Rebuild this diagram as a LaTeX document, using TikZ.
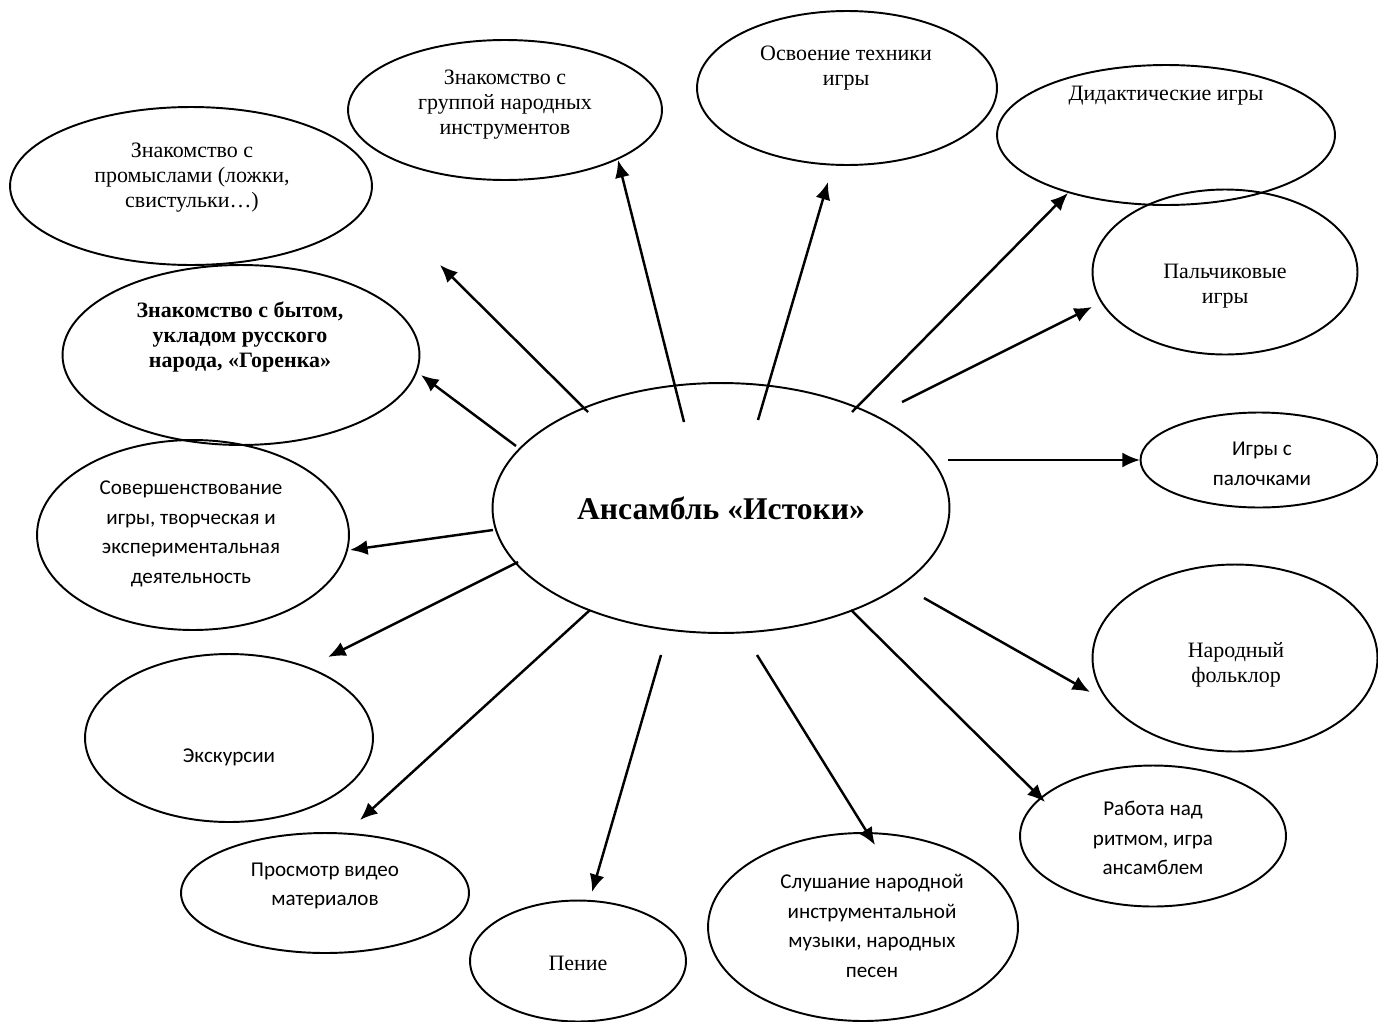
\documentclass[tikz,border=0pt]{standalone}
\usepackage{fontspec}
\setmainfont{Liberation Serif}
\setsansfont{Carlito}
\usetikzlibrary{shapes.geometric,arrows.meta}

\begin{document}
\begin{tikzpicture}[x=0.02cm, y=-0.02cm,
        oval/.style={draw, ellipse, line width=1.1pt, inner sep=0pt},
        serif/.style={font=\fontsize{12.5}{14.2}\selectfont, align=center, inner sep=0pt},
        sans/.style={font=\sffamily\fontsize{12}{16.8}\selectfont, align=center, inner sep=0pt},
        pfeil/.style={->, line width=1.4pt},
        >={Latex[length=10pt,width=8.5pt]} % Pfeilspitzen
        ]
            \useasboundingbox (0,0) rectangle (1378,1021);

            % Ellipsen
            \node[oval, minimum width=9.14cm, minimum height=5.00cm] (ens) at (721,508) {};
            \node[oval, minimum width=7.24cm, minimum height=3.16cm] (prom) at (191,186) {};
            \node[oval, minimum width=6.28cm, minimum height=2.80cm] (grup) at (505,110) {};
            \node[oval, minimum width=6.00cm, minimum height=3.08cm] (tech) at (847,88) {};
            \node[oval, minimum width=6.76cm, minimum height=2.80cm] (did) at (1166,135) {};
            \node[oval, minimum width=5.30cm, minimum height=3.30cm] (palc) at (1225,272) {};
            \node[oval, minimum width=4.74cm, minimum height=1.90cm] (palo) at (1259,460) {};
            \node[oval, minimum width=5.70cm, minimum height=3.74cm] (folk) at (1235,658) {};
            \node[oval, minimum width=5.32cm, minimum height=2.82cm] (ritm) at (1153,836) {};
            \node[oval, minimum width=6.20cm, minimum height=3.76cm] (slus) at (863,927) {};
            \node[oval, minimum width=4.32cm, minimum height=2.42cm] (pen) at (578,961) {};
            \node[oval, minimum width=5.76cm, minimum height=2.40cm] (vid) at (325,893) {};
            \node[oval, minimum width=5.76cm, minimum height=3.36cm] (eks) at (229,738) {};
            \node[oval, minimum width=6.24cm, minimum height=3.80cm] (sov) at (193,535) {};
            \node[oval, minimum width=7.14cm, minimum height=3.60cm] (byt) at (241,355) {};

            % Texte
            \node[serif, font=\bfseries\fontsize{18}{20}\selectfont] (ens-t) at (721,508) {Ансамбль «Истоки»};
            \node[serif] (prom-t) at (192,178) {Знакомство с\\промыслами (ложки,\\свистульки…)};
            \node[serif] (grup-t) at (505,105) {Знакомство с\\группой народных\\инструментов};
            \node[serif] (tech-t) at (846,68) {Освоение техники\\игры};
            \node[serif] (did-t) at (1166,96) {Дидактические игры};
            \node[serif] (palc-t) at (1225,286) {Пальчиковые\\игры};
            \node[sans] (palo-t) at (1262,464) {Игры с\\палочками};
            \node[serif] (folk-t) at (1236,665) {Народный\\фольклор};
            \node[sans] (ritm-t) at (1153,838) {Работа над\\ритмом, игра\\ансамблем};
            \node[sans] (slus-t) at (872,926) {Слушание народной\\инструментальной\\музыки, народных\\песен};
            \node[serif] (pen-t) at (578,963) {Пение};
            \node[sans] (vid-t) at (325,886) {Просмотр видео\\материалов};
            \node[sans] (eks-t) at (229,757) {Экскурсии};
            \node[sans] (sov-t) at (191,534) {Совершенствование\\игры, творческая и\\экспериментальная\\деятельность};
            \node[serif, font=\bfseries\fontsize{12.5}{14.2}\selectfont] (byt-t) at (240,337) {Знакомство с бытом,\\укладом русского\\народа, «Горенка»};

            % Pfeilenden
            \coordinate (prom-a) at (588,412);  \coordinate (prom-e) at (440,265);
            \coordinate (byt-a)  at (516,446);  \coordinate (byt-e)  at (421,375);
            \coordinate (sov-a)  at (493,530);  \coordinate (sov-e)  at (350,550);
            \coordinate (eks-a)  at (518,562);  \coordinate (eks-e)  at (328,657);
            \coordinate (vid-a)  at (590,610);  \coordinate (vid-e)  at (360,820);
            \coordinate (pen-a)  at (661,655);  \coordinate (pen-e)  at (592,892);
            \coordinate (slus-a) at (757,655);  \coordinate (slus-e) at (875,845);
            \coordinate (ritm-a) at (851,610);  \coordinate (ritm-e) at (1045,802);
            \coordinate (folk-a) at (924,598);  \coordinate (folk-e) at (1090,692);
            \coordinate (palo-a) at (948,460);  \coordinate (palo-e) at (1140,460);
            \coordinate (palc-a) at (902,402);  \coordinate (palc-e) at (1092,307);
            \coordinate (did-a)  at (852,412);  \coordinate (did-e)  at (1068,193);
            \coordinate (tech-a) at (758,420);  \coordinate (tech-e) at (828,182);
            \coordinate (grup-a) at (684,422);  \coordinate (grup-e) at (618,160);

            % Pfeile
            \draw[pfeil] (prom-a) -- (prom-e);
            \draw[pfeil] (byt-a)  -- (byt-e);
            \draw[pfeil] (sov-a)  -- (sov-e);
            \draw[pfeil] (eks-a)  -- (eks-e);
            \draw[pfeil] (vid-a)  -- (vid-e);
            \draw[pfeil] (pen-a)  -- (pen-e);
            \draw[pfeil] (slus-a) -- (slus-e);
            \draw[pfeil] (ritm-a) -- (ritm-e);
            \draw[pfeil] (folk-a) -- (folk-e);
            \draw[pfeil] (palo-a) -- (palo-e);
            \draw[pfeil] (palc-a) -- (palc-e);
            \draw[pfeil] (did-a)  -- (did-e);
            \draw[pfeil] (tech-a) -- (tech-e);
            \draw[pfeil] (grup-a) -- (grup-e);
        \end{tikzpicture}
\end{document}
